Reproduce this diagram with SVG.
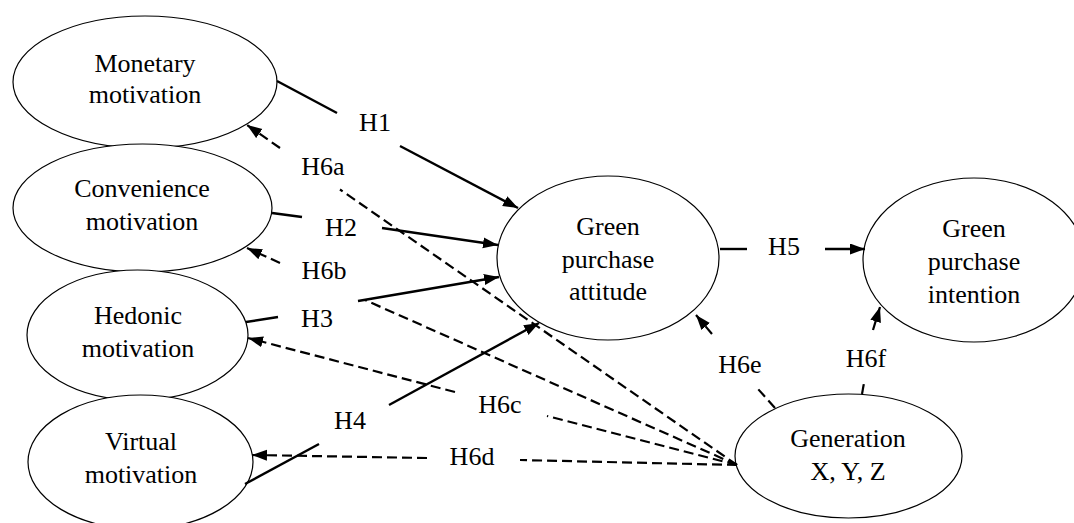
<svg xmlns="http://www.w3.org/2000/svg" width="1074" height="523" viewBox="0 0 1074 523">
<defs>
<marker id="ah" markerUnits="userSpaceOnUse" markerWidth="16" markerHeight="12" refX="15" refY="5.5" orient="auto">
<path d="M0,0 L15,5.5 L0,11 z" fill="#000"/>
</marker>
</defs>
<style>
.node ellipse{fill:#fff;stroke:#000;stroke-width:1.2}
text{font-family:'Liberation Serif','DejaVu Serif',serif;font-size:26px;fill:#000;text-anchor:middle}
.s{fill:none;stroke:#000;stroke-width:2.4}
.d{fill:none;stroke:#000;stroke-width:2.2;stroke-dasharray:10 5}
.a{marker-end:url(#ah)}
</style>
<rect width="1074" height="523" fill="#fff"/>
<g id="nodes" font-family="Liberation Serif, DejaVu Serif, serif" font-size="26" text-anchor="middle">
<g id="monetary" class="node"><ellipse cx="145" cy="82" rx="132" ry="66"/><text x="145" y="72">Monetary</text><text x="145" y="103">motivation</text></g>
<g id="convenience" class="node"><ellipse cx="142.5" cy="208" rx="129.5" ry="64"/><text x="142" y="197">Convenience</text><text x="142" y="230">motivation</text></g>
<g id="hedonic" class="node"><ellipse cx="137.5" cy="335" rx="110.5" ry="65"/><text x="138" y="324">Hedonic</text><text x="138" y="357">motivation</text></g>
<g id="virtual" class="node"><ellipse cx="140.5" cy="462" rx="112.5" ry="67"/><text x="141" y="450">Virtual</text><text x="141" y="483">motivation</text></g>
<g id="attitude" class="node"><ellipse cx="608" cy="258" rx="111" ry="82"/><text x="608" y="235">Green</text><text x="608" y="268">purchase</text><text x="608" y="300">attitude</text></g>
<g id="intention" class="node"><ellipse cx="974" cy="260" rx="111" ry="82"/><text x="974" y="237">Green</text><text x="974" y="270">purchase</text><text x="974" y="303">intention</text></g>
<g id="generation" class="node"><ellipse cx="848.5" cy="456" rx="113.5" ry="62"/><text x="848" y="447">Generation</text><text x="848" y="480">X, Y, Z</text></g>
</g>
<g id="connectors" font-family="Liberation Serif, DejaVu Serif, serif" font-size="26" text-anchor="middle">
<path class="s" d="M277,81 L337,113"/><path class="s a" d="M400,146 L518,208"/>
<path class="s" d="M272,213 L302,217"/><path class="s a" d="M382,228 L498,245"/>
<path class="s" d="M246,322 L278,317"/><path class="s a" d="M358,301 L499,277"/>
<path class="s" d="M245,484 L319,444"/><path class="s a" d="M389,405 L539,323"/>
<path class="s" d="M720,249 L747,249"/><path class="s a" d="M825,249 L865,249"/>
<path class="d" d="M737,465 L340,189.5"/><path class="d a" d="M280,148 L247,125"/>
<path class="d" d="M737,465 L365,300"/><path class="d a" d="M280,263 L247,248"/>
<path class="d" d="M737,465 L547,416"/><path class="d a" d="M455,392 L248,338"/>
<path class="d" d="M737,465 L520,460"/><path class="d a" d="M427,458 L252,455"/>
<path class="d" d="M775,408 L758,389"/><path class="d a" d="M712,334 L696,315"/>
<path class="d" d="M862,394 L864,383"/><path class="d a" d="M873,330 L880,307"/>
<text x="375" y="131">H1</text>
<text x="341" y="236">H2</text>
<text x="317" y="327">H3</text>
<text x="350" y="429">H4</text>
<text x="784" y="255">H5</text>
<text x="323" y="175">H6a</text>
<text x="324" y="279">H6b</text>
<text x="500" y="413">H6c</text>
<text x="472" y="465">H6d</text>
<text x="740" y="373">H6e</text>
<text x="866" y="367">H6f</text>
</g>
</svg>
